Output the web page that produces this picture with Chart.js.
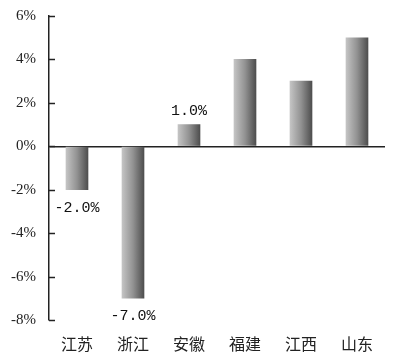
<!DOCTYPE html>
<html lang="zh">
<head>
  <meta charset="UTF-8">
  <title>各省增速</title>
  <script src="https://cdn.jsdelivr.net/npm/chart.js"></script>
  <style>
    html, body { margin: 0; padding: 0; background: #fff; }
    #wrap { width: 400px; height: 363px; }
  </style>
</head>
<body>
  <div id="wrap"><canvas id="growthChart"></canvas></div>

  <script>
    const provinces = ['江苏', '浙江', '安徽', '福建', '江西', '山东'];
    const growth = [-2, -7, 1, 4, 3, 5];
    const valueLabels = ['-2.0%', '-7.0%', '1.0%', '', '', ''];
    const yTicks = [6, 4, 2, 0, -2, -4, -6, -8];

    const BAR_W = 22;

    Chart.defaults.font.family = "'Liberation Serif', 'Times New Roman', serif";
    Chart.defaults.font.size = 15;
    Chart.defaults.color = '#222';

    // horizontal grey shading across each bar
    function barFill(ctx) {
      const chart = ctx.chart;
      const xScale = chart.scales.x;
      if (!chart.chartArea || !xScale) return '#888';
      const cx = xScale.getPixelForValue(ctx.dataIndex);
      const g = chart.ctx.createLinearGradient(cx - BAR_W / 2, 0, cx + BAR_W / 2, 0);
      g.addColorStop(0, '#c4c4c4');
      g.addColorStop(0.5, '#929292');
      g.addColorStop(1, '#4e4e4e');
      return g;
    }

    // short tick marks pointing into the plot, like the original
    const innerTicks = {
      id: 'innerTicks',
      afterDraw(chart) {
        const y = chart.scales.y;
        const c = chart.ctx;
        c.save();
        c.strokeStyle = '#222';
        c.lineWidth = 1.5;
        yTicks.forEach(v => {
          const py = Math.round(y.getPixelForValue(v)) + 0.5;
          c.beginPath();
          c.moveTo(y.right, py);
          c.lineTo(y.right + 6, py);
          c.stroke();
        });
        c.restore();
      }
    };

    const valueText = {
      id: 'valueText',
      afterDatasetsDraw(chart) {
        const meta = chart.getDatasetMeta(0);
        const c = chart.ctx;
        c.save();
        c.font = "15px 'Liberation Mono', monospace";
        c.fillStyle = '#111';
        c.textAlign = 'center';
        c.textBaseline = 'middle';
        meta.data.forEach((bar, i) => {
          if (!valueLabels[i]) return;
          const off = growth[i] < 0 ? 18 : -14;
          c.fillText(valueLabels[i], bar.x, bar.y + off);
        });
        c.restore();
      }
    };

    new Chart(document.getElementById('growthChart'), {
      type: 'bar',
      data: {
        labels: provinces,
        datasets: [{
          data: growth,
          backgroundColor: barFill,
          borderWidth: 0,
          barThickness: BAR_W
        }]
      },
      options: {
        responsive: true,
        maintainAspectRatio: false,
        animation: false,
        layout: { padding: { top: 16, right: 15, left: 0, bottom: 0 } },
        plugins: {
          legend: { display: false },
          tooltip: { enabled: false }
        },
        scales: {
          x: {
            grid: { display: false, drawTicks: false },
            border: { display: false },
            ticks: {
              padding: 14,
              font: { family: "'Noto Sans CJK SC', sans-serif", size: 16 }
            },
            afterFit(s) { s.height = 43; s.paddingLeft = 0; s.paddingRight = 0; }
          },
          y: {
            min: -8,
            max: 6,
            afterBuildTicks(s) { s.ticks = yTicks.map(v => ({ value: v })); },
            grid: {
              drawTicks: false,
              lineWidth: 1.5,
              color: c => (c.tick && c.tick.value === 0 ? '#222' : 'rgba(0,0,0,0)')
            },
            border: { display: true, color: '#222', width: 1.5 },
            ticks: {
              padding: 13,
              callback: v => v + '%'
            },
            afterFit(s) { s.width = 49; s.paddingTop = 0; s.paddingBottom = 0; }
          }
        }
      },
      plugins: [innerTicks, valueText]
    });
  </script>
</body>
</html>
